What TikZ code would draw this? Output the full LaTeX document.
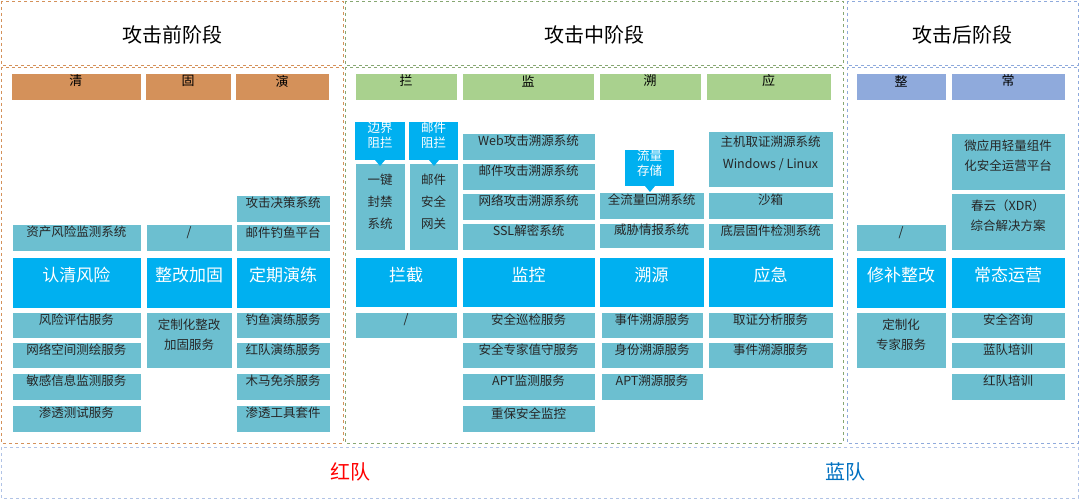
\documentclass[tikz,border=0pt]{standalone}
\usepackage{fontspec}
\setmainfont{Noto Sans CJK SC}
\usetikzlibrary{fit}
\definecolor{org}{HTML}{D4915A}
\definecolor{grn}{HTML}{A9D18E}
\definecolor{blu}{HTML}{8FAADC}
\definecolor{teal}{HTML}{6CBFD0}
\definecolor{bright}{HTML}{00B0F0}
\definecolor{redteam}{HTML}{FF0000}
\definecolor{blueteam}{HTML}{0070C0}
\tikzset{
  frm/.style={draw=#1, dashed, line width=0.8pt},
  hd/.style={fill=#1, draw=white, line width=0.5pt, inner sep=0pt, font=\fontsize{13}{15}\selectfont},
  tb/.style={fill=teal, draw=white, line width=0.5pt, inner sep=0pt, align=center, font=\fontsize{12.5}{16}\selectfont, text=black!85},
  big/.style={fill=bright, draw=white, inner sep=0pt, text=white, font=\fontsize{17}{20}\selectfont},
  tag/.style={fill=bright, inner sep=0pt, align=center, text=white, font=\fontsize{12.5}{15}\selectfont},
  ttl/.style={font=\fontsize{20}{24}\selectfont},
}
\newcommand{\bx}[6]{\node[#5, fit={(#1,#2)(#3,#4)}] (n#1x#2) {#6};}
\begin{document}
\begin{tikzpicture}[x=1pt,y=-1pt]
\useasboundingbox (0,0) rectangle (1080,500);
% frames
\draw[frm=org] (1,1) rectangle (343,65);
\draw[frm=org] (1,67) rectangle (343,443);
\draw[frm=grn!80!black] (345,1) rectangle (843,65);
\draw[frm=grn!80!black] (345,67) rectangle (843,443);
\draw[frm=blu] (847,1) rectangle (1078,65);
\draw[frm=blu] (847,67) rectangle (1078,443);
\draw[frm=blu!70] (1,447) rectangle (1078,498);
\node[ttl] (t1) at (172,35) {攻击前阶段};
\node[ttl] (t2) at (594,35) {攻击中阶段};
\node[ttl] (t3) at (962,35) {攻击后阶段};
\node[font=\fontsize{20}{24}\selectfont, text=redteam] (red) at (350,472) {红队};
\node[font=\fontsize{20}{24}\selectfont, text=blueteam] (blue) at (845,472) {蓝队};
% left
\bx{11}{73}{141}{100}{hd=org}{清}
\bx{145}{73}{231}{100}{hd=org}{固}
\bx{235}{73}{329}{100}{hd=org}{演}
\bx{236}{195}{330}{222}{tb}{攻击决策系统}
\bx{12}{224}{141}{251}{tb}{资产风险监测系统}
\bx{146}{224}{232}{251}{tb}{/}
\bx{236}{224}{330}{251}{tb}{邮件钓鱼平台}
\bx{12}{257}{141}{308}{big}{认清风险}
\bx{146}{257}{232}{308}{big}{整改加固}
\bx{236}{257}{330}{308}{big}{定期演练}
\bx{12}{312}{141}{338}{tb}{风险评估服务}
\bx{12}{342}{141}{368}{tb}{网络空间测绘服务}
\bx{12}{373}{141}{400}{tb}{敏感信息监测服务}
\bx{12}{405}{141}{432}{tb}{渗透测试服务}
\bx{146}{312}{232}{368}{tb}{定制化整改\\[4pt]加固服务}
\bx{236}{312}{330}{338}{tb}{钓鱼演练服务}
\bx{236}{342}{330}{368}{tb}{红队演练服务}
\bx{236}{373}{330}{400}{tb}{木马免杀服务}
\bx{236}{405}{330}{432}{tb}{渗透工具套件}
% middle
\bx{355}{73}{457}{100}{hd=grn}{拦}
\bx{462}{73}{594}{100}{hd=grn}{监}
\bx{599}{73}{701}{100}{hd=grn}{溯}
\bx{706}{73}{831}{100}{hd=grn}{应}
\bx{355}{163}{405}{250}{tb}{一键\\[6pt]封禁\\[6pt]系统}
\bx{409}{163}{458}{250}{tb}{邮件\\[6pt]安全\\[6pt]网关}
\bx{355}{122}{405}{160}{tag}{边界\\阻拦}
\bx{409}{122}{458}{160}{tag}{邮件\\阻拦}
\fill[bright] (375,160) -- (385,160) -- (380,166) -- cycle;
\fill[bright] (429,160) -- (439,160) -- (434,166) -- cycle;
\bx{462}{133}{595}{160}{tb}{Web攻击溯源系统}
\bx{462}{163}{595}{190}{tb}{邮件攻击溯源系统}
\bx{462}{193}{595}{220}{tb}{网络攻击溯源系统}
\bx{462}{223}{595}{250}{tb}{SSL解密系统}
\bx{599}{192}{704}{219}{tb}{全流量回溯系统}
\bx{599}{223}{704}{248}{tb}{威胁情报系统}
\bx{625}{150}{674}{186}{tag}{流量\\存储}
\fill[bright] (645,186) -- (655,186) -- (650,192) -- cycle;
\bx{708}{131}{833}{187}{tb}{主机取证溯源系统\\[6pt]Windows / Linux}
\bx{708}{192}{833}{219}{tb}{沙箱}
\bx{708}{223}{833}{250}{tb}{底层固件检测系统}
\bx{355}{257}{457}{307}{big}{拦截}
\bx{462}{257}{595}{307}{big}{监控}
\bx{599}{257}{704}{307}{big}{溯源}
\bx{708}{257}{833}{307}{big}{应急}
\bx{355}{312}{457}{338}{tb}{/}
\bx{462}{312}{595}{338}{tb}{安全巡检服务}
\bx{462}{342}{595}{368}{tb}{安全专家值守服务}
\bx{462}{373}{595}{400}{tb}{APT监测服务}
\bx{462}{405}{595}{432}{tb}{重保安全监控}
\bx{601}{312}{703}{338}{tb}{事件溯源服务}
\bx{601}{342}{703}{368}{tb}{身份溯源服务}
\bx{601}{373}{703}{400}{tb}{APT溯源服务}
\bx{708}{312}{833}{338}{tb}{取证分析服务}
\bx{708}{342}{833}{368}{tb}{事件溯源服务}
% right
\bx{856}{73}{946}{100}{hd=blu}{整}
\bx{951}{73}{1065}{100}{hd=blu}{常}
\bx{951}{133}{1065}{190}{tb}{微应用轻量组件\\[4pt]化安全运营平台}
\bx{951}{193}{1065}{250}{tb}{春云（XDR）\\[4pt]综合解决方案}
\bx{856}{224}{946}{251}{tb}{/}
\bx{856}{257}{946}{308}{big}{修补整改}
\bx{951}{257}{1065}{308}{big}{常态运营}
\bx{856}{312}{946}{368}{tb}{定制化\\[4pt]专家服务}
\bx{951}{312}{1065}{338}{tb}{安全咨询}
\bx{951}{342}{1065}{368}{tb}{蓝队培训}
\bx{951}{373}{1065}{400}{tb}{红队培训}
\end{tikzpicture}
\end{document}
